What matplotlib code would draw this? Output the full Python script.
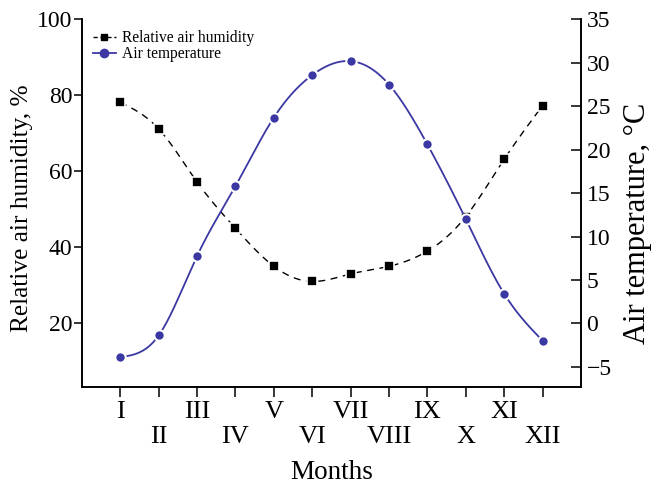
import matplotlib
matplotlib.use("Agg")
import matplotlib.pyplot as plt
import numpy as np

# data
months = np.arange(1, 13)
month_labels = ["I", "II", "III", "IV", "V", "VI",
                "VII", "VIII", "IX", "X", "XI", "XII"]
humidity = [78.2, 71.2, 57.2, 45.0, 35.0, 31.0, 33.0, 35.0, 39.0, 48.1, 63.2, 77.3]
temperature = [-3.9, -1.4, 7.75, 15.8, 23.7, 28.6, 30.2, 27.5, 20.6, 12.0, 3.4, -2.0]

BLUE = "#3b38a3"


def spline(x, y, n=400):
    # natural cubic spline through the points, for the smooth connecting line
    x = np.asarray(x, float)
    y = np.asarray(y, float)
    k = len(x)
    h = np.diff(x)
    A = np.zeros((k, k))
    b = np.zeros(k)
    A[0, 0] = A[-1, -1] = 1
    for i in range(1, k - 1):
        A[i, i - 1] = h[i - 1]
        A[i, i] = 2 * (h[i - 1] + h[i])
        A[i, i + 1] = h[i]
        b[i] = 6 * ((y[i + 1] - y[i]) / h[i] - (y[i] - y[i - 1]) / h[i - 1])
    M = np.linalg.solve(A, b)
    xs = np.linspace(x[0], x[-1], n)
    idx = np.clip(np.searchsorted(x, xs) - 1, 0, k - 2)
    x0, x1 = x[idx], x[idx + 1]
    hh = x1 - x0
    ys = (M[idx] * (x1 - xs) ** 3 / (6 * hh) + M[idx + 1] * (xs - x0) ** 3 / (6 * hh)
          + (y[idx] / hh - M[idx] * hh / 6) * (x1 - xs)
          + (y[idx + 1] / hh - M[idx + 1] * hh / 6) * (xs - x0))
    return xs, ys


plt.rcParams["font.family"] = ["Liberation Serif", "DejaVu Serif"]

fig = plt.figure(figsize=(6.55, 4.87), dpi=100)
ax = fig.add_axes([0.125, 0.206, 0.762, 0.754])
ax2 = ax.twinx()

# humidity: dashed black with squares
hx, hy = spline(months, humidity)
ax.plot(hx, hy, color="black", lw=1.0, ls=(0, (5, 4)))
ax.plot(months, humidity, ls="none", marker="s", ms=6.5, color="black",
        mec="white", mew=1.2)

# temperature: solid blue with circles
tx, ty = spline(months, temperature)
ax2.plot(tx, ty, color=BLUE, lw=1.3)
ax2.plot(months, temperature, ls="none", marker="o", ms=7.5, color=BLUE,
         mec="white", mew=1.5)

ax.set_xlim(0, 13)
ax.set_ylim(3.3, 100)
ax2.set_ylim(-7.3, 35)

ax.set_yticks([20, 40, 60, 80, 100])
ax2.set_yticks([-5, 0, 5, 10, 15, 20, 25, 30, 35])
ax2.set_yticklabels(["\u22125", "0", "5", "10", "15", "20", "25", "30", "35"])

odd = months[::2]
even = months[1::2]
ax.set_xticks(odd, month_labels[::2])
ax.set_xticks(even, month_labels[1::2], minor=True)

for a in (ax, ax2):
    a.spines["top"].set_visible(False)
    for s in a.spines.values():
        s.set_linewidth(1.2)

ax.tick_params(axis="x", which="major", direction="out", length=7, width=1.1,
               pad=3.5, labelsize=19)
ax.tick_params(axis="x", which="minor", direction="out", length=7, width=1.1,
               pad=21.5, labelsize=19)
ax.tick_params(axis="y", direction="out", length=6, width=1.1, pad=1, labelsize=17)
ax2.tick_params(axis="y", direction="in", length=7, width=1.1, pad=4, labelsize=17)

ax.set_xlabel("Months", fontsize=19.5)
ax.set_ylabel("Relative air humidity, %", fontsize=18.3)
ax2.set_ylabel("Air temperature, \u00b0C", fontsize=22)
ax.xaxis.set_label_coords(0.5, -0.2)
ax.yaxis.set_label_coords(-0.097, 0.486)
ax2.yaxis.set_label_coords(1.085, 0.446)

h1 = plt.Line2D([], [], color="black", lw=1.0, ls=(0, (3, 2)), marker="s", ms=5)
h2 = plt.Line2D([], [], color=BLUE, lw=1.3, marker="o", ms=6)
ax.legend([h1, h2], ["Relative air humidity", "Air temperature"],
          loc="upper left", bbox_to_anchor=(0.0, 1.0), frameon=False,
          fontsize=11.2, handlelength=1.5, handletextpad=0.4,
          labelspacing=0.0, borderaxespad=0.3)

fig.savefig("out.png", dpi=100)
